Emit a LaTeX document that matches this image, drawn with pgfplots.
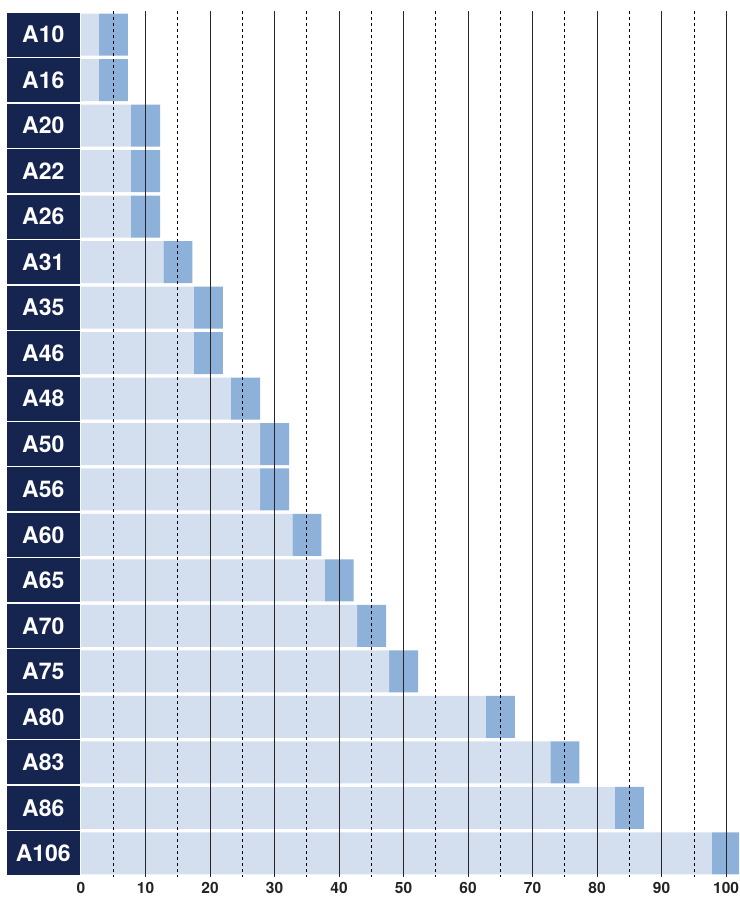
\documentclass[border=0pt]{standalone}
\usepackage{pgfplots}
\pgfplotsset{compat=1.18}
\usepackage{pgfplotstable}
\usepackage{fontspec}
\setmainfont{TeX Gyre Heros}
\definecolor{navy}{RGB}{22,37,80}
\definecolor{lightbar}{RGB}{211,223,238}
\definecolor{darkbar}{RGB}{142,177,218}
\definecolor{ticktext}{RGB}{35,35,35}
\pgfplotstableread{
name start len
A10 2.75 4.5
A16 2.75 4.5
A20 7.75 4.5
A22 7.75 4.5
A26 7.75 4.5
A31 12.75 4.5
A35 17.5 4.5
A46 17.5 4.5
A48 23.25 4.5
A50 27.75 4.5
A56 27.75 4.5
A60 32.75 4.5
A65 37.75 4.5
A70 42.8 4.5
A75 47.75 4.5
A80 62.75 4.5
A83 72.75 4.5
A86 82.75 4.5
A106 97.75 4.5
}\data
\begin{document}
\begin{tikzpicture}
\begin{axis}[
  at={(0,0)}, anchor=south west,
  scale only axis, width=658pt, height=866pt,
  xbar stacked, bar width=42pt,
  xmin=0, xmax=102, ymin=-0.52, ymax=18.52, y dir=reverse,
  ytick={0,...,18},
  yticklabels={A10,A16,A20,A22,A26,A31,A35,A46,A48,A50,A56,A60,A65,A70,A75,A80,A83,A86,A106},
  xtick={0,10,...,100},
  xticklabel={\pgfmathprintnumber{\tick}},
  minor xtick={5,15,...,95},
  xminorgrids,
  minor grid style={black, dash pattern=on 3pt off 3pt, line width=0.7pt},
  extra x ticks={10,20,...,100},
  extra x tick labels={},
  extra x tick style={xmajorgrids=true, major grid style={black!85, line width=0.9pt}},
  major tick length=0pt, minor tick length=0pt,
  axis line style={draw=none},
  axis on top,
  /pgf/number format/assume math mode=true,
  xticklabel style={font=\bfseries\fontsize{15.5}{15.5}\selectfont, text=ticktext, inner sep=0pt, yshift=-5pt},
  yticklabel style={font=\bfseries\fontsize{23}{23}\selectfont, text=white, fill=navy,
    minimum width=73pt, minimum height=44pt, inner sep=0pt, anchor=east, xshift=-1pt},
]
\addplot[fill=lightbar, draw=none] table[x=start, y expr=\coordindex] {\data};
\addplot[fill=darkbar, draw=none] table[x=len, y expr=\coordindex] {\data};
\node[anchor=north west, inner sep=0pt, font=\bfseries\fontsize{15.5}{15.5}\selectfont, text=ticktext] at (axis cs:98.4,18.52) [yshift=-18pt] {[kW]};
\end{axis}
\pgfresetboundingbox
\path (-81pt,-32pt) rectangle (658pt,877pt);
\end{tikzpicture}
\end{document}
